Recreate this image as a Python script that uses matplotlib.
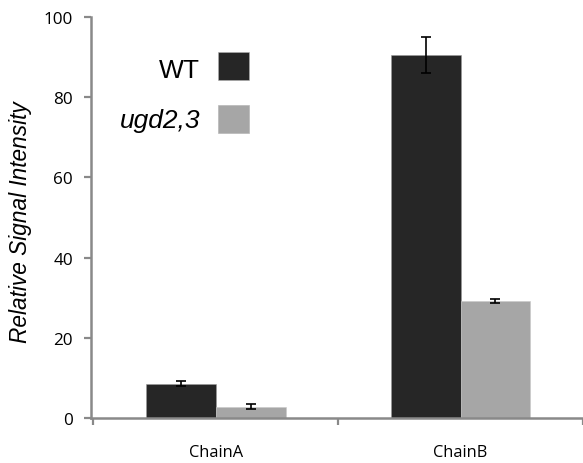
import matplotlib
matplotlib.use("Agg")
import matplotlib.pyplot as plt
import numpy as np
from matplotlib.patches import Rectangle

categories = ["ChainA", "ChainB"]
series_names = ["WT", "ugd2,3"]
wt_values = [8.6, 90.5]
wt_errors = [0.6, 4.5]
ugd_values = [2.8, 29.2]
ugd_errors = [0.6, 0.6]
y_ticks = [0, 20, 40, 60, 80, 100]

wt_color = "#262626"
ugd_color = "#a6a6a6"
spine_color = "#898989"

fig = plt.figure(figsize=(5.83, 4.64), dpi=100)
ax = fig.add_axes([91/583, 45/464, 492/583, 401/464])

x = np.arange(len(categories))
w = 0.285
err_kw = dict(ecolor="black", elinewidth=1.2, capsize=3.6, capthick=1.2)
ax.bar(x - w/2, wt_values, w, yerr=wt_errors, color=wt_color,
       edgecolor="#9a9a9a", linewidth=0.4, error_kw=err_kw, zorder=2)
ax.bar(x + w/2, ugd_values, w, yerr=ugd_errors, color=ugd_color,
       edgecolor="#c8c8c8", linewidth=0.4, error_kw=err_kw, zorder=2)

ax.set_xlim(-0.51, 1.482)
ax.set_ylim(0, 100)
ax.set_yticks(y_ticks)
ax.set_yticklabels([str(t) for t in y_ticks], fontfamily="Open Sans", fontsize=12.3)
ax.set_xticks(x)
ax.set_xticklabels(categories, fontfamily="Open Sans", fontsize=11.8)
ax.set_xticks([-0.5, 0.5, 1.5], minor=True)

for s in ["top", "right"]:
    ax.spines[s].set_visible(False)
for s in ["left", "bottom"]:
    ax.spines[s].set_color(spine_color)
    ax.spines[s].set_linewidth(1.8)

ax.tick_params(axis="y", direction="out", length=5, width=1.6, color=spine_color, pad=8)
ax.tick_params(axis="x", which="major", length=0, pad=19)
ax.tick_params(axis="x", which="minor", direction="out", length=5, width=1.6, color=spine_color)

ax.set_ylabel("Relative Signal Intensity", fontfamily="Liberation Sans",
              fontstyle="italic", fontsize=16.3)
ax.yaxis.set_label_coords(-0.12, 0.49)

# legend (manual, text right-aligned to the left of the swatches)
legend_rows = [(series_names[0], wt_color, "normal", 0.850, 0.843),
               (series_names[1], ugd_color, "italic", 0.726, 0.711)]
for label, col, style, ybase, ybox in legend_rows:
    ax.text(0.2215, ybase, label, transform=ax.transAxes, ha="right", va="baseline",
            fontfamily="Liberation Sans", fontstyle=style, fontsize=19)
    ax.add_patch(Rectangle((0.258, ybox), 0.063, 0.069, transform=ax.transAxes,
                           facecolor=col, edgecolor="#b0b0b0", linewidth=0.4,
                           clip_on=False))

fig.savefig("out.png", dpi=100)
